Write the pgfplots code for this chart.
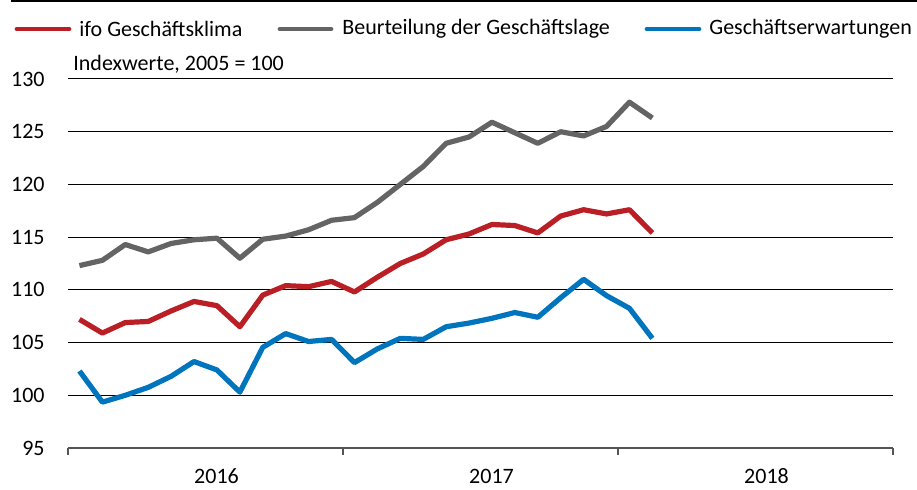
\documentclass[border=0pt]{standalone}
\usepackage{pgfplots}
\usepackage{pgfplotstable}
\pgfplotsset{compat=1.18}
\usepackage{fontspec}
\setmainfont{Carlito}
\definecolor{ifored}{HTML}{BA1F25}
\definecolor{ifogray}{HTML}{646464}
\definecolor{ifoblue}{HTML}{0075BE}
\definecolor{axgray}{HTML}{555555}

\pgfplotstableread{
x     klima   lage    erw
0.5   107.2   112.3   102.3
1.5   105.9   112.8   99.35
2.5   106.9   114.3   100.0
3.5   107.0   113.6   100.75
4.5   108.0   114.4   101.8
5.5   108.9   114.75  103.2
6.5   108.5   114.9   102.4
7.5   106.5   113.0   100.3
8.5   109.5   114.8   104.55
9.5   110.4   115.1   105.85
10.5  110.3   115.7   105.1
11.5  110.8   116.6   105.3
12.5  109.8   116.85  103.1
13.5  111.2   118.3   104.4
14.5  112.5   120.0   105.4
15.5  113.4   121.7   105.3
16.5  114.75  123.9   106.5
17.5  115.3   124.5   106.85
18.5  116.2   125.9   107.3
19.5  116.1   124.9   107.85
20.5  115.4   123.9   107.4
21.5  117.0   125.0   109.25
22.5  117.6   124.6   111.0
23.5  117.2   125.5   109.45
24.5  117.6   127.8   108.25
25.5  115.4   126.3   105.4
}\ifodata

\begin{document}
\fontsize{11}{13.2}\selectfont
\begin{tikzpicture}
\useasboundingbox (0,0) rectangle (458.5pt,-245pt);
\draw[black, line width=1pt] (5.5pt,-0.75pt) -- (458.5pt,-0.75pt);
% legend
\draw[ifored, line width=2.4pt, line cap=round] (8.5pt,-14.5pt) -- (34.5pt,-14.5pt);
\node[anchor=west, inner sep=0pt] at (39.5pt,-14.5pt) {ifo Geschäftsklima};
\draw[ifogray, line width=2.4pt, line cap=round] (140pt,-14.5pt) -- (165.5pt,-14.5pt);
\node[anchor=west, inner sep=0pt] at (171pt,-14.5pt) {Beurteilung der Geschäftslage};
\draw[ifoblue, line width=2.4pt, line cap=round] (323.5pt,-14.5pt) -- (349.5pt,-14.5pt);
\node[anchor=west, inner sep=0pt] at (354.5pt,-14.5pt) {Geschäftserwartungen};
\node[anchor=west, inner sep=0pt] at (36.5pt,-32pt) {Indexwerte, 2005 = 100};

\begin{axis}[
  at={(34pt,-224pt)}, anchor=south west,
  scale only axis, width=412.5pt, height=184.5pt,
  xmin=0, xmax=36, ymin=95, ymax=130,
  ytick={95,100,...,130},
  ymajorgrids, grid style={black, line width=0.5pt},
  axis x line*=bottom, axis y line*=left,
  y axis line style={draw=none},
  x axis line style={axgray, line width=1pt, -},
  ytick style={draw=none},
  /pgf/number format/assume math mode=true,
  yticklabel style={anchor=east, inner sep=0pt, xshift=-11.5pt, font=\fontsize{11}{13.2}\selectfont},
  xtick={6,18,30}, xticklabels={2016,2017,2018},
  xtick style={draw=none},
  xticklabel style={anchor=center, inner sep=0pt, yshift=-14pt, xshift=5.5pt, font=\fontsize{11}{13.2}\selectfont},
  extra x ticks={0,12,24,36}, extra x tick labels={},
  extra x tick style={tick align=outside, major tick length=3.5pt, xtick style={draw=axgray, line width=1pt}, grid=none},
  clip=false,
]
\addplot[ifogray, line width=2.6pt, line join=round] table[x=x, y=lage] {\ifodata};
\addplot[ifored, line width=2.6pt, line join=round] table[x=x, y=klima] {\ifodata};
\addplot[ifoblue, line width=2.6pt, line join=round] table[x=x, y=erw] {\ifodata};
\end{axis}
\end{tikzpicture}
\end{document}
